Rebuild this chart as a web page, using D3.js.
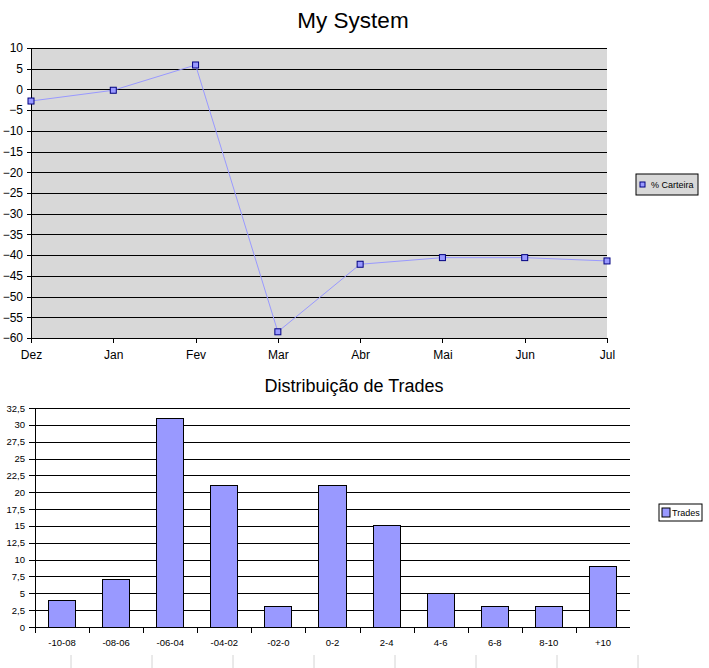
<!DOCTYPE html>
<html>
<head>
<title>My System</title>
<script src="https://d3js.org/d3.v7.min.js"></script>
<style>
  body { margin: 0; background: #fff; }
  svg { display: block; font-family: "Liberation Sans", Arial, sans-serif; }
  .domain { stroke: #000; }
  .tick line { stroke: #000; shape-rendering: crispEdges; }
  .tick text { fill: #000; }
</style>
</head>
<body>
<svg width="709" height="668"></svg>
<script>

// line chart data (% Carteira per month)
const months = ['Dez', 'Jan', 'Fev', 'Mar', 'Abr', 'Mai', 'Jun', 'Jul'];
const carteira = [-2.8, -0.2, 5.9, -58.5, -42.2, -40.6, -40.6, -41.4];
const lineTicks = [10, 5, 0, -5, -10, -15, -20, -25, -30, -35, -40, -45, -50, -55, -60];

// bar chart data (trade distribution)
const ranges = ['-10-08', '-08-06', '-06-04', '-04-02', '-02-0', '0-2', '2-4', '4-6', '6-8', '8-10', '+10'];
const trades = [4, 7, 31, 21, 3, 21, 15, 5, 3, 3, 9];
const barTicks = [0, 2.5, 5, 7.5, 10, 12.5, 15, 17.5, 20, 22.5, 25, 27.5, 30, 32.5];

const svg = d3.select('svg');
const commaFormat = d => String(d).replace('.', ',');

// faint spreadsheet cell lines behind the charts
const cellXs = [71, 152, 233, 314, 395, 476, 557, 638];
svg.selectAll('.cell').data(cellXs)
  .enter().append('line')
    .attr('class', 'cell')
    .attr('x1', d => d).attr('x2', d => d)
    .attr('y1', 655).attr('y2', 668)
    .attr('stroke', '#d4d4d4');

// ---------- top chart: My System ----------
const box1 = { left: 31, right: 607, top: 48, bottom: 338 };

const x1 = d3.scalePoint()
  .domain(months)
  .range([box1.left, box1.right]);

const y1 = d3.scaleLinear()
  .domain([-60, 10])
  .range([box1.bottom, box1.top]);

svg.append('text')
  .attr('x', 353).attr('y', 28)
  .attr('text-anchor', 'middle')
  .attr('font-size', 22.5)
  .text('My System');

svg.append('rect')
  .attr('x', box1.left).attr('y', box1.top)
  .attr('width', box1.right - box1.left)
  .attr('height', box1.bottom - box1.top)
  .attr('fill', '#d8d8d8');

// gridlines
svg.append('g')
  .attr('transform', `translate(${box1.left},0)`)
  .call(d3.axisLeft(y1).tickValues(lineTicks).tickSize(-(box1.right - box1.left)).tickFormat(''))
  .call(g => g.select('.domain').remove());

// y axis
svg.append('g')
  .attr('transform', `translate(${box1.left},0)`)
  .call(d3.axisLeft(y1).tickValues(lineTicks).tickSizeInner(4).tickSizeOuter(0).tickPadding(4))
  .call(g => g.selectAll('text').attr('font-size', 12).attr('font-family', 'Liberation Sans, Arial, sans-serif'));

// x axis
svg.append('g')
  .attr('transform', `translate(0,${box1.bottom})`)
  .call(d3.axisBottom(x1).tickSizeInner(5).tickSizeOuter(0).tickPadding(7))
  .call(g => g.selectAll('text').attr('font-size', 12).attr('font-family', 'Liberation Sans, Arial, sans-serif'));

const points = months.map((m, i) => ({ month: m, value: carteira[i] }));

svg.append('path')
  .datum(points)
  .attr('fill', 'none')
  .attr('stroke', '#9999ff')
  .attr('stroke-width', 1)
  .attr('d', d3.line().x(d => x1(d.month)).y(d => y1(d.value)));

svg.selectAll('.marker').data(points)
  .enter().append('rect')
    .attr('class', 'marker')
    .attr('x', d => x1(d.month) - 3)
    .attr('y', d => y1(d.value) - 3)
    .attr('width', 6).attr('height', 6)
    .attr('fill', '#9999ff')
    .attr('stroke', '#000080');

// legend
const leg1 = svg.append('g').attr('transform', 'translate(636,174)');
leg1.append('rect')
  .attr('width', 62).attr('height', 21)
  .attr('fill', '#d8d8d8').attr('stroke', '#000');
leg1.append('rect')
  .attr('x', 4).attr('y', 8).attr('width', 5).attr('height', 5)
  .attr('fill', '#9999ff').attr('stroke', '#000080');
leg1.append('text')
  .attr('x', 15).attr('y', 14)
  .attr('font-size', 9)
  .text('% Carteira');

// ---------- bottom chart: Distribuição de Trades ----------
const box2 = { left: 35, right: 630, top: 408, bottom: 627 };

const x2 = d3.scaleBand()
  .domain(ranges)
  .range([box2.left, box2.right])
  .paddingInner(0.5)
  .paddingOuter(0.25);

const x2Edges = d3.scaleBand()
  .domain(ranges)
  .range([box2.left, box2.right]);

const y2 = d3.scaleLinear()
  .domain([0, 32.5])
  .range([box2.bottom, box2.top]);

svg.append('text')
  .attr('x', 354).attr('y', 392)
  .attr('text-anchor', 'middle')
  .attr('font-size', 18)
  .text('Distribuição de Trades');

// gridlines
svg.append('g')
  .attr('transform', `translate(${box2.left},0)`)
  .call(d3.axisLeft(y2).tickValues(barTicks).tickSize(-(box2.right - box2.left)).tickFormat(''))
  .call(g => g.select('.domain').remove());

// y axis
svg.append('g')
  .attr('transform', `translate(${box2.left},0)`)
  .call(d3.axisLeft(y2).tickValues(barTicks).tickFormat(commaFormat).tickSizeInner(6).tickSizeOuter(0).tickPadding(4))
  .call(g => g.selectAll('text').attr('font-size', 9.5).attr('font-family', 'Liberation Sans, Arial, sans-serif'));

// x axis: line, boundary ticks, centred labels
svg.append('line')
  .attr('x1', box2.left).attr('x2', box2.right)
  .attr('y1', box2.bottom + 0.5).attr('y2', box2.bottom + 0.5)
  .attr('stroke', '#000');

svg.selectAll('.sep').data(ranges)
  .enter().append('line')
    .attr('class', 'sep')
    .attr('x1', d => Math.round(x2Edges(d)) + 0.5).attr('x2', d => Math.round(x2Edges(d)) + 0.5)
    .attr('y1', box2.bottom).attr('y2', box2.bottom + 6)
    .attr('stroke', '#000');

svg.selectAll('.xlab').data(ranges)
  .enter().append('text')
    .attr('class', 'xlab')
    .attr('x', d => x2Edges(d) + x2Edges.bandwidth() / 2)
    .attr('y', box2.bottom + 19)
    .attr('text-anchor', 'middle')
    .attr('font-size', 9.5)
    .text(d => d);

const bars = ranges.map((r, i) => ({ range: r, value: trades[i] }));

svg.selectAll('.bar').data(bars)
  .enter().append('rect')
    .attr('class', 'bar')
    .attr('x', d => x2(d.range))
    .attr('y', d => y2(d.value))
    .attr('width', x2.bandwidth())
    .attr('height', d => box2.bottom - y2(d.value))
    .attr('fill', '#9999ff')
    .attr('stroke', '#000')
    .attr('shape-rendering', 'crispEdges');

// legend
const leg2 = svg.append('g').attr('transform', 'translate(659,504)');
leg2.append('rect')
  .attr('width', 43).attr('height', 17)
  .attr('fill', '#fff').attr('stroke', '#000');
leg2.append('rect')
  .attr('x', 3).attr('y', 4).attr('width', 8).attr('height', 9)
  .attr('fill', '#9999ff').attr('stroke', '#000');
leg2.append('text')
  .attr('x', 13).attr('y', 12)
  .attr('font-size', 9)
  .text('Trades');

</script>
</body>
</html>
